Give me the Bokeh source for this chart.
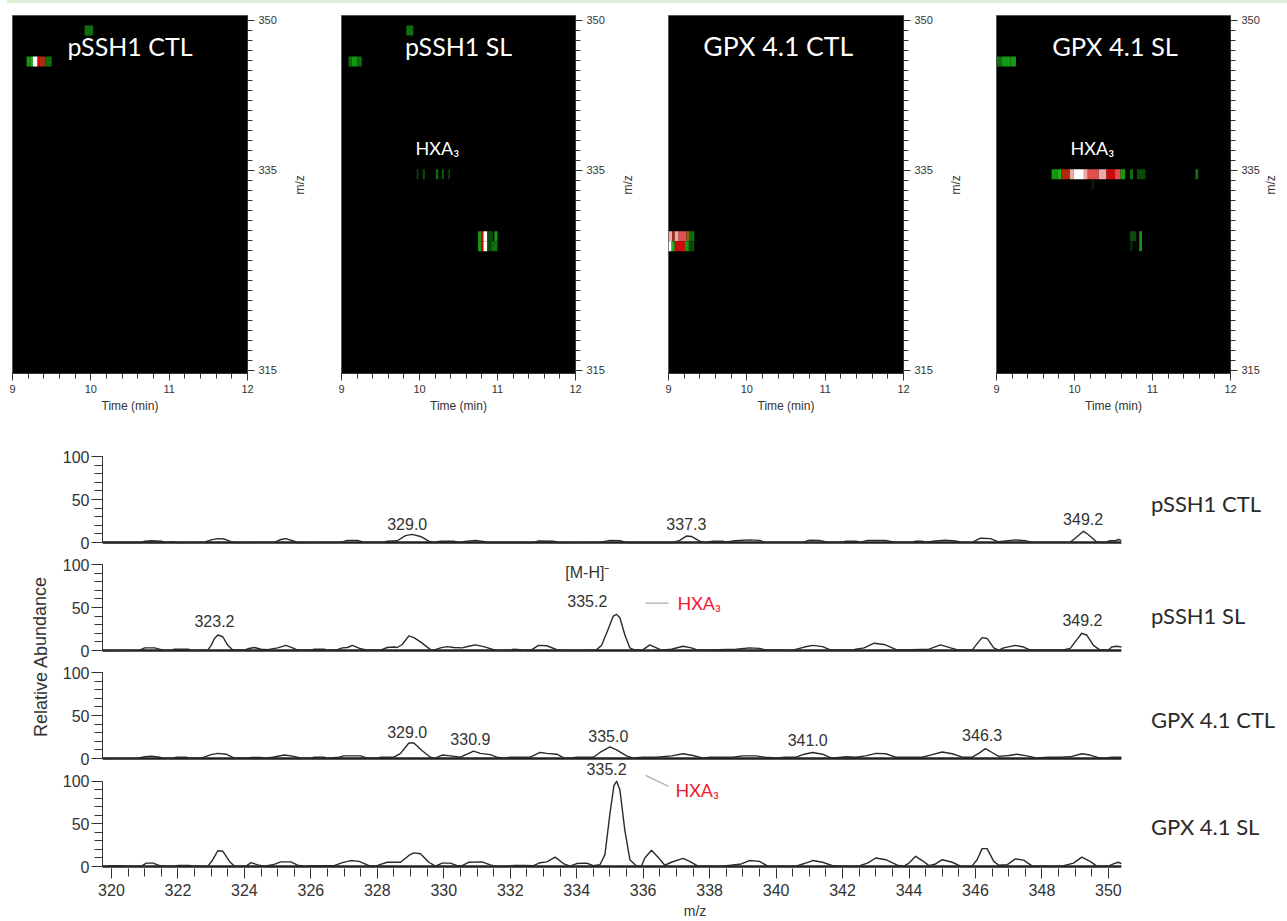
import math
from bokeh.plotting import figure
from bokeh.layouts import column, row
from bokeh.models import Range1d, FixedTicker, Div
from bokeh.core.properties import value
from bokeh.embed import file_html
from bokeh.resources import INLINE

# ---------- spectra: (m/z, relative abundance) ----------
pssh1_ctl = [(319.73,0),(320.9,0),(321.0,1.5),(321.2,2),(321.5,1.5),(321.6,0.3),(321.75,0.3),(321.85,1),(321.95,0),(322.8,0.3),(323.0,3),(323.2,4.5),(323.4,4),(323.6,1),(323.7,0),(324.9,0.2),(325.1,3.5),(325.25,4.5),(325.5,1.5),(325.6,0),(326.9,0.2),(327.1,2.5),(327.4,2.5),(327.6,0.3),(328.2,0.3),(328.3,1.5),(328.6,2),(328.85,8),(329.05,9.5),(329.3,7),(329.55,1.5),(329.7,0),(329.9,1.5),(330.3,1.5),(330.45,0),(330.7,1.5),(330.95,2.5),(331.2,1.2),(331.3,0),(332.7,0),(332.85,1.8),(333.3,1.5),(333.45,0),(334.7,0.2),(335.0,2.5),(335.3,2),(335.5,0),(336.9,0),(337.1,2.5),(337.3,7.5),(337.45,7),(337.7,1.5),(337.85,0),(338.1,1.5),(338.4,1.5),(338.5,0.5),(338.75,2),(339.2,3),(339.5,2.5),(339.65,0.3),(340.8,0.2),(341.0,2.8),(341.3,2.5),(341.55,0.3),(342.0,0.3),(342.1,1.5),(342.4,1.5),(342.55,0.5),(342.75,2.5),(343.3,2.5),(343.55,0.3),(344.1,0.3),(344.2,1.5),(344.4,1.5),(344.5,0.3),(344.8,1.8),(345.1,2.8),(345.4,1.8),(345.6,0.2),(345.9,0.2),(346.15,5),(346.45,4.5),(346.7,0.8),(346.85,1.5),(347.2,3),(347.5,2.2),(347.7,0.2),(348.85,0.3),(349.0,5),(349.25,13),(349.4,9),(349.65,0.5),(349.9,0),(350.05,2),(350.2,2),(350.3,3.5),(350.39,2.5)]

pssh1_sl = [(319.73,0),(320.85,0.3),(321.0,3),(321.3,3),(321.5,1),(321.6,0.3),(321.8,0.3),(321.9,1.5),(322.3,1.5),(322.4,0.3),(322.9,0.5),(323.0,6),(323.1,14),(323.2,18),(323.35,16),(323.5,6),(323.65,0.5),(324.0,0.5),(324.1,2),(324.3,3.5),(324.5,1.5),(324.7,1),(325.0,3),(325.25,6),(325.45,3),(325.6,0.5),(326.0,0.5),(326.1,1.5),(326.4,1.5),(326.5,0.5),(326.8,1),(326.95,3),(327.1,3.5),(327.25,6),(327.5,2),(327.7,0.3),(328.1,0.5),(328.3,3.5),(328.5,4),(328.6,3.5),(328.75,7),(328.95,17),(329.1,15),(329.3,10),(329.6,1),(329.7,0.5),(329.9,3),(330.1,4.5),(330.3,3.5),(330.55,3),(330.75,5),(330.95,6.5),(331.2,4.5),(331.5,1),(331.6,0.3),(332.0,0.3),(332.1,1.5),(332.3,1),(332.4,0.3),(332.65,1),(332.85,6),(333.1,5.5),(333.4,1),(333.55,0.3),(334.4,0.5),(334.6,1),(334.75,6),(334.95,25),(335.1,40),(335.2,42),(335.3,38),(335.45,18),(335.6,3),(335.75,0.5),(336.0,1),(336.2,6.5),(336.4,3),(336.55,0.3),(336.85,1.5),(337.2,5),(337.45,3),(337.65,0.5),(338.0,0.5),(338.8,1.5),(339.2,3),(339.5,2.5),(339.7,0.5),(340.5,0.3),(340.85,4),(341.1,6),(341.4,4.5),(341.65,0.5),(342.3,0.5),(342.4,1.5),(342.65,3),(342.95,8.5),(343.25,7),(343.6,1.2),(343.8,0.5),(344.6,1.5),(344.95,6.5),(345.25,3),(345.5,0.5),(345.9,0.5),(346.05,8),(346.2,15),(346.35,14),(346.55,3),(346.7,0.5),(346.85,3),(347.2,6),(347.45,4),(347.65,0.5),(348.6,0.5),(348.85,2.5),(349.0,10),(349.2,20),(349.35,18),(349.55,6),(349.75,0.5),(350.0,0.5),(350.1,4),(350.25,5),(350.39,4)]

gpx_ctl = [(319.73,0),(320.8,0.3),(321.0,2),(321.2,2.8),(321.45,1.5),(321.55,0.3),(321.85,0.3),(321.95,1.5),(322.25,1.5),(322.35,0.3),(322.7,0.5),(323.0,4.5),(323.2,6),(323.45,5),(323.7,0.5),(324.1,0.5),(324.2,1.2),(324.5,1.2),(324.6,0.3),(324.85,1.5),(325.2,4),(325.5,2.5),(325.7,0.3),(326.0,0.3),(326.1,1.5),(326.4,1.5),(326.5,0.3),(326.85,1.5),(327.0,3),(327.5,3),(327.7,0.5),(328.0,0.3),(328.1,1.5),(328.5,1.5),(328.7,6),(328.95,18),(329.1,18),(329.35,9),(329.6,1.5),(329.75,0.5),(329.95,4),(330.2,3),(330.5,1.5),(330.7,5),(330.9,8.5),(331.1,6),(331.4,4.5),(331.6,1.5),(331.8,0.5),(332.0,1.5),(332.6,1.5),(332.9,7),(333.1,6),(333.4,5),(333.6,1),(333.8,0.5),(334.0,1.5),(334.5,1.5),(334.7,7),(335.0,13.5),(335.2,10),(335.5,3),(335.7,0.5),(336.0,1.5),(336.4,1.5),(336.85,3),(337.2,5.5),(337.5,3.5),(337.8,0.5),(338.0,1.5),(338.7,1.5),(339.0,3),(339.4,3),(339.65,1.5),(340.0,0.5),(340.3,1.5),(340.6,1.5),(340.85,5),(341.1,7),(341.4,5),(341.6,1.5),(341.75,0.5),(342.1,2),(342.4,1.5),(342.7,3),(343.0,6),(343.3,5.5),(343.6,1.5),(344.4,1.5),(344.7,4.5),(345.0,7.5),(345.3,5.5),(345.6,1.5),(345.9,1.5),(346.1,6),(346.3,11.5),(346.5,7),(346.7,2.5),(347.0,3.5),(347.25,5),(347.55,3),(347.85,0.5),(348.2,1.5),(348.6,1.5),(348.9,2.5),(349.2,5.5),(349.45,4),(349.7,1),(349.9,0.3),(350.1,1.5),(350.39,1.5)]

gpx_sl = [(319.73,0),(320.0,1),(320.3,1),(320.4,0.3),(320.9,0.5),(321.05,4),(321.25,4),(321.45,1),(321.6,0.3),(321.9,0.3),(322.0,1.3),(322.35,1.3),(322.45,0.3),(322.9,0.5),(323.05,8),(323.2,18.5),(323.35,18),(323.55,6),(323.7,0.5),(324.05,0.5),(324.2,4.5),(324.4,2),(324.6,0.5),(324.85,2),(325.1,5.5),(325.4,5.5),(325.6,1.5),(325.8,0.3),(326.0,1),(326.4,1),(326.7,1),(326.95,4.5),(327.2,7),(327.45,6),(327.75,1),(327.95,0.3),(328.1,2.5),(328.3,5),(328.7,5),(328.95,13),(329.1,16),(329.3,15),(329.55,5),(329.75,0.5),(329.95,4),(330.2,4),(330.4,1),(330.55,1),(330.75,5),(331.15,5.5),(331.4,2),(331.55,0.5),(332.0,0.5),(332.1,1.2),(332.4,1.2),(332.7,1),(332.9,4.5),(333.1,5.5),(333.35,11),(333.6,3.5),(333.8,0.5),(334.0,3.5),(334.3,4),(334.5,1),(334.7,2),(334.85,14),(335.0,62),(335.12,95),(335.2,100),(335.3,90),(335.45,42),(335.6,8),(335.8,0.5),(335.95,0.5),(336.05,10),(336.25,19),(336.45,11),(336.65,1.5),(336.85,5),(337.2,9.5),(337.4,6),(337.65,0.5),(338.4,0.5),(338.95,3),(339.2,7),(339.5,6),(339.75,0.5),(340.6,0.5),(340.85,3.5),(341.1,7),(341.4,5),(341.7,1),(342.0,0.5),(342.5,0.8),(342.75,4),(343.0,10),(343.3,8),(343.65,1.5),(343.85,0.5),(344.0,4),(344.2,12),(344.4,7),(344.6,1),(344.8,3),(345.0,8),(345.3,5),(345.55,0.5),(345.9,0.8),(346.05,8),(346.2,21),(346.35,21),(346.55,6),(346.7,1.5),(346.95,2),(347.2,9),(347.45,7.5),(347.7,0.8),(348.6,0.5),(348.95,4),(349.2,11),(349.45,6),(349.65,0.5),(350.0,0.5),(350.15,3),(350.3,5),(350.39,3.5)]

spectra = [pssh1_ctl, pssh1_sl, gpx_ctl, gpx_sl]

peak_labels = [
    [("329.0",328.9,22),("337.3",337.3,22),("349.2",349.24,27)],
    [("323.2",323.1,34),("335.2",334.32,57),("[M-H]\u207b",334.32,91),("349.2",349.22,35)],
    [("329.0",328.9,31),("330.9",330.8,23),("335.0",334.95,26),("341.0",340.95,22),("346.3",346.2,27)],
    [("335.2",334.9,115)],
]
hxa_labels = [None, (337.03,55), None, (336.97,90)]
leaders = [None, ((336.07,336.76),(55,55)), None, ((336.07,336.77),(107,94))]
sample_names = ["pSSH1 CTL","pSSH1 SL","GPX 4.1 CTL","GPX 4.1 SL"]
name_pos = [(351.28,45),(351.28,41),(351.28,45),(351.28,46.5)]

# ---------- ion maps: (start min, end min, m/z cell bottom, intensity 0-100) ----------
map_pssh1_ctl = [(9.92,10.03,348.5,18),(9.18,9.23,345.4,30),(9.23,9.26,345.4,35),(9.26,9.32,345.4,100),(9.32,9.34,345.4,70),(9.34,9.42,345.4,65),(9.42,9.50,345.4,25)]
map_pssh1_sl = [(9.83,9.92,348.5,20),(9.09,9.13,345.4,20),(9.13,9.2,345.4,30),(9.2,9.26,345.4,15),
    (9.965,9.985,334.1,10),(10.04,10.07,334.1,10),(10.21,10.24,334.1,15),(10.29,10.31,334.1,15),(10.37,10.39,334.1,10),
    (10.75,10.79,327.9,30),(10.79,10.82,327.9,70),(10.82,10.87,327.9,100),(10.87,10.94,327.9,10),(10.96,11.0,327.9,28),
    (10.75,10.79,326.9,30),(10.79,10.82,326.9,70),(10.82,10.87,326.9,100),(10.87,10.92,326.9,10),(10.92,11.0,326.9,15)]
map_gpx_ctl = [(9.0,9.05,327.9,90),(9.05,9.08,327.9,55),(9.08,9.13,327.9,92),(9.13,9.23,327.9,80),(9.23,9.27,327.9,50),(9.27,9.33,327.9,15),
    (9.0,9.04,326.9,100),(9.04,9.08,326.9,35),(9.08,9.21,326.9,70),(9.21,9.26,326.9,30),(9.26,9.33,326.9,10)]
map_gpx_sl = [(9.0,9.07,345.4,24),(9.07,9.18,345.4,30),(9.18,9.25,345.4,27),
    (9.706,9.78,334.1,30),(9.78,9.83,334.1,35),(9.83,9.94,334.1,55),(9.94,9.99,334.1,88),(9.99,10.12,334.1,100),(10.12,10.17,334.1,90),(10.17,10.25,334.1,75),(10.25,10.31,334.1,85),(10.31,10.41,334.1,90),(10.41,10.52,334.1,70),(10.52,10.59,334.1,78),(10.59,10.65,334.1,30),
    (10.71,10.75,334.1,25),(10.8,10.91,334.1,8),(11.55,11.585,334.1,22),(10.22,10.25,333.1,2),
    (10.71,10.79,327.9,6),(10.83,10.865,327.9,28),(10.71,10.75,326.9,5),(10.83,10.865,326.9,28)]
ion_maps = [map_pssh1_ctl, map_pssh1_sl, map_gpx_ctl, map_gpx_sl]
map_titles = [("pSSH1 CTL",10.5,"25px"),("pSSH1 SL",10.5,"25px"),("GPX 4.1 CTL",10.4,"26.5px"),("GPX 4.1 SL",10.52,"25.5px")]
map_hxa = [None,(9.95,337.2),None,(9.95,337.2)]

intensity_colors = ["#042204","#0a4a0a","#0f6e0f","#159915","#20b020","#8a6a10","#b02a10","#cc0c0c","#e05050","#f0a8a8","#ffffff"]

def intensity_color(v):
    return intensity_colors[round(v / 10)]

# ---------- layout (left border, frame width, right border, m/z label standoff) ----------
map_geom = [(12,235,86,20),(8,234,84,20),(9,235,85,20),(8,235,56,8)]
UI = "Liberation Sans"
MAP_TITLE = "Lato"
OVERLAP = 9
PX_PER_UNIT = 0.86
ZERO_GAP = 2 + OVERLAP

def ion_panel(i):
    L, W, R, S = map_geom[i]
    p = figure(width=L+W+R, height=433, x_range=Range1d(9,12), y_range=Range1d(314.67,350.5),
               min_border_left=L, min_border_right=R, min_border_top=12, min_border_bottom=63,
               y_axis_location="right", background_fill_color="black", output_backend="svg", toolbar_location=None)
    p.grid.visible = False
    p.outline_line_color = "#555555"
    rows = ion_maps[i]
    p.quad(left=[r[0] for r in rows], right=[r[1] for r in rows],
           bottom=[r[2] for r in rows], top=[r[2]+1 for r in rows],
           fill_color=[intensity_color(r[3]) for r in rows], line_color=None)
    t, x, fs = map_titles[i]
    p.text([x],[347.4],text=[t],text_color="white",text_font=value(MAP_TITLE),text_font_size=fs,
           text_align="center",text_baseline="middle")
    if map_hxa[i]:
        p.text([map_hxa[i][0]],[map_hxa[i][1]],text=["HXA\u2083"],text_color="white",text_font=value(MAP_TITLE),
               text_font_size="18px",text_align="left",text_baseline="middle")
    ax = p.xaxis[0]
    ax.ticker = FixedTicker(ticks=[9,10,11,12], minor_ticks=[9+k*0.2 for k in range(16)])
    ax.axis_label = "Time (min)"
    ax.axis_label_standoff = 3
    ay = p.yaxis[0]
    ay.ticker = FixedTicker(ticks=[315,335,350], minor_ticks=list(range(315,351)))
    ay.axis_label = "m/z"
    ay.axis_label_orientation = math.pi/2
    ay.axis_label_standoff = S
    for a in (ax, ay):
        a.axis_label_text_font = UI
        a.axis_label_text_font_size = "12px"
        a.axis_label_text_font_style = "normal"
        a.axis_label_text_color = "#333333"
        a.axis_line_color = "#333333"
        a.major_tick_line_color = "#333333"
        a.minor_tick_line_color = "#333333"
        a.major_tick_out = 7
        a.major_tick_in = 0
        a.minor_tick_out = 5
        a.minor_tick_in = 0
        a.major_label_text_font = UI
        a.major_label_text_font_size = "11px"
        a.major_label_text_color = "#333333"
        a.major_label_standoff = 4
    return p

def spectrum_panel(i):
    last = i == 3
    fh = 109 if last else 108 + OVERLAP
    gap = 2 if last else ZERO_GAP
    p = figure(width=1232, height=fh+(52 if last else 0), x_range=Range1d(319.73,355.39),
               y_range=Range1d(-gap/PX_PER_UNIT,(fh-gap)/PX_PER_UNIT), min_border_left=47, min_border_right=0, min_border_top=0,
               min_border_bottom=52 if last else 0, output_backend="svg", toolbar_location=None,
               margin=(0,0,0,0) if last else (0,0,-OVERLAP,0))
    p.background_fill_alpha = 0
    p.border_fill_alpha = 0
    p.grid.visible = False
    p.outline_line_color = None
    pts = spectra[i]
    p.line([319.73,350.39],[0,0],line_color="#222222",line_width=2.4)
    p.line([q[0] for q in pts],[q[1] for q in pts],line_color="#2a2a2a",line_width=1.4,line_join="round")
    for txt,x,y in peak_labels[i]:
        p.text([x],[y],text=[txt],text_color="#333333",text_font=value(UI),text_font_size="16px",
               text_align="center",text_baseline="middle")
    if hxa_labels[i]:
        hx,hy = hxa_labels[i]
        p.text([hx],[hy],text=["HXA\u2083"],text_color="#ee1c30",text_font=value(MAP_TITLE),text_font_size="18px",
               text_align="left",text_baseline="middle")
        p.line(list(leaders[i][0]),list(leaders[i][1]),line_color="#aaaaaa",line_width=1.2)
    nx,ny = name_pos[i]
    p.text([nx],[ny],text=[sample_names[i]],text_color="#2a2a2a",text_font=value(MAP_TITLE),text_font_size="22px",
           text_align="left",text_baseline="middle")
    ay = p.yaxis[0]
    ay.bounds = (0,100)
    ay.ticker = FixedTicker(ticks=[0,50,100], minor_ticks=list(range(0,101,10)))
    ay.major_tick_out = 11
    ay.minor_tick_out = 8
    ay.major_tick_in = 0
    ay.minor_tick_in = 0
    ay.major_label_text_font = UI
    ay.major_label_text_font_size = "16px"
    ay.major_label_text_color = "#333333"
    ay.major_label_standoff = 2
    ay.axis_line_color = "#333333"
    ay.major_tick_line_color = "#333333"
    ay.minor_tick_line_color = "#333333"
    if last:
        ax = p.xaxis[0]
        ax.bounds = (319.73,350.39)
        ax.ticker = FixedTicker(ticks=list(range(320,351,2)), minor_ticks=[320+k*0.5 for k in range(61)])
        ax.major_tick_out = 10
        ax.minor_tick_out = 8
        ax.major_tick_in = 0
        ax.minor_tick_in = 0
        ax.axis_line_color = None
        ax.major_tick_line_color = "#333333"
        ax.minor_tick_line_color = "#333333"
        ax.major_label_text_font = UI
        ax.major_label_text_font_size = "16px"
        ax.major_label_text_color = "#333333"
        ax.major_label_standoff = 5
        ax.axis_label = "m/z"
        ax.axis_label_text_font = UI
        ax.axis_label_text_font_size = "14px"
        ax.axis_label_text_font_style = "normal"
        ax.axis_label_text_color = "#333333"
        ax.axis_label_standoff = 4
    else:
        p.xaxis.visible = False
    return p

ylab = figure(width=55, height=485, x_range=Range1d(0,55), y_range=Range1d(0,485), min_border=0,
              output_backend="svg", toolbar_location=None, x_axis_location=None, y_axis_location=None)
ylab.grid.visible = False
ylab.outline_line_color = None
ylab.text([40],[265],text=["Relative Abundance"],angle=1.5708,text_color="#333333",text_font=value(UI),
          text_font_size="18px",text_align="center",text_baseline="middle")

band = Div(text="", width=1280, height=3, margin=(0,0,0,7), styles={"background-color":"#dff0d8"})
maps = row(*[ion_panel(i) for i in range(4)], spacing=0, margin=0)
lower = row(ylab, column(*[spectrum_panel(i) for i in range(4)], spacing=0, margin=0), spacing=0, margin=0)
root = column(band, maps, lower, spacing=0, margin=0)
open("out.html","w").write(file_html(root, INLINE))
